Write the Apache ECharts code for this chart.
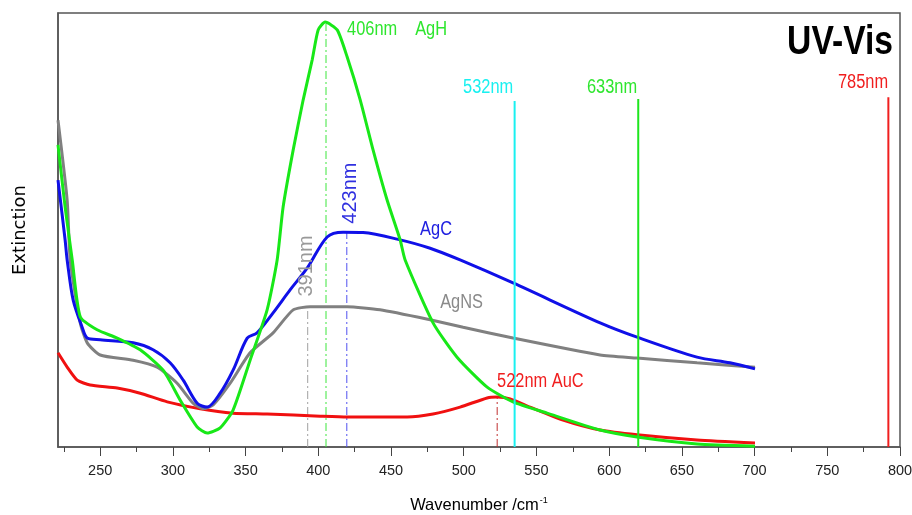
<!DOCTYPE html>
<html style="height: 100%">
  <head>
    <meta charset="UTF-8" />
    <title>UV-Vis</title>
    <script src="https://cdn.jsdelivr.net/npm/echarts/dist/echarts.min.js"></script>
  </head>
  <body style="height: 100%; margin: 0">
    <div id="main" style="width: 912px; height: 515px"></div>
    <script>
      var SANS = "'Liberation Sans', Arial, sans-serif";
      var NARROW_X = 0.82; // the original uses a narrow face, squeeze Liberation Sans

      // [wavelength, extinction]
      var agH = [
        [221, 69.6], [226, 55], [230.8, 43.1], [236.3, 30.0], [247.9, 27.0], [261.7, 25.1],
        [277.5, 22.4], [293.3, 17.7], [305, 10.8], [316.7, 4.6], [323.6, 3.2], [332.5, 4.4],
        [341.4, 8.5], [353.1, 20.0], [364.8, 31.6], [371.7, 43.1], [375.8, 55.3], [382.7, 68.4],
        [389.6, 80.0], [395.8, 89.2], [399.9, 96.1], [404.7, 97.9], [413, 96.1], [419.8, 89.9],
        [428.8, 80.0], [437.7, 68.4], [447.3, 56.9], [456.3, 47.7], [459.7, 43.1], [478.9, 28.6],
        [495.4, 20.7], [516.1, 13.8], [533.9, 10.4], [557.3, 7.8], [593.8, 3.9], [619.2, 2.3],
        [660.4, 0.7], [700.3, 0.2]
      ];
      var agC = [
        [221, 61.5], [225.9, 47.7], [227.3, 43.1], [231.4, 33.9], [237.6, 27.6], [241.1, 25.1],
        [250, 24.7], [272.7, 24.0], [286.4, 22.4], [298.1, 19.4], [307.1, 15.4], [316.7, 10.1],
        [323.6, 9.2], [332.5, 12.4], [341.4, 17.7], [351.1, 25.1], [357.9, 26.3], [368.9, 30.9],
        [380.6, 36.2], [392.3, 41.2], [406.1, 48.4], [417.1, 49.5], [430.8, 49.4], [454.2, 47.9],
        [476.9, 45.8], [497.5, 43.1], [533.9, 37.8], [593.8, 28.6], [619.2, 25.3], [660.4, 20.7],
        [683.1, 19.4], [700.3, 18.0]
      ];
      var agNS = [
        [221, 75.3], [227.3, 56.9], [229.4, 43.1], [236.3, 28.6], [241.1, 24.0], [250, 21.2],
        [272.7, 20.0], [289.2, 18.4], [302.9, 14.7], [313.9, 10.1], [320.8, 8.8], [327.7, 9.7],
        [339.4, 14.7], [353.1, 21.7], [368.9, 26.3], [382.7, 31.6], [394.4, 32.3], [419.8, 32.3],
        [442.5, 31.6], [476.9, 29.3], [499.6, 27.6], [533.9, 25.1], [593.8, 21.2], [619.2, 20.5],
        [660.4, 19.4], [700.3, 18.4]
      ];
      var auC = [
        [221, 21.7], [227.3, 18.4], [234.2, 15.4], [243.1, 14.3], [261.7, 13.6], [277.5, 12.4],
        [296.1, 10.4], [318.8, 8.8], [341.4, 7.8], [364.8, 7.6], [401.3, 7.1], [419.8, 6.9],
        [461.1, 6.9], [478.9, 7.6], [497.5, 9.2], [516.1, 11.3], [522.9, 11.5], [531.9, 11.1],
        [545.6, 9.2], [568.3, 6.2], [593.8, 3.9], [619.2, 2.8], [660.4, 1.6], [700.3, 0.9]
      ];

      // laser lines: [position, top, colour]
      var lasers = [[535, 79.7, '#19f0f0'], [620, 80.2, '#1ee61e'], [792, 80.6, '#f01e1e']];
      // peak markers: [position, top, colour]
      var peaks = [[392.7, 32.3, '#a0a0a0'], [405.3, 97.5, '#3ce63c'], [419.6, 49.5, '#5050f0'], [523, 11.5, '#c03030']];
      // text: [x, y, text, colour, align, rotate]
      var notes = [
        [419.8, 96.1, '406nm', '#2ee62e', 'left', 0],
        [466.6, 96.1, 'AgH', '#2ee62e', 'left', 0],
        [421.9, 58.5, '423nm', '#3030e0', 'center', 90],
        [391.6, 41.7, '391nm', '#999999', 'center', 90],
        [470, 50.2, 'AgC', '#2020e0', 'left', 0],
        [483.8, 33.4, 'AgNS', '#8a8a8a', 'left', 0],
        [522.9, 15.0, '522nm AuC', '#f01e1e', 'left', 0],
        [534, 82.9, '532nm', '#19f0f0', 'right', 0],
        [619.2, 82.9, '633nm', '#2ee62e', 'right', 0],
        [791.8, 83.9, '785nm', '#f01e1e', 'right', 0]
      ];
      var majorTicks = [250, 300, 350, 400, 450, 500, 550, 600, 650, 700, 750, 800];
      var minorTicks = [225, 275, 325, 375, 425, 475, 525, 575, 625, 675, 725, 775];

      var chart = echarts.init(document.getElementById('main'));

      function curve(name, data, color, smooth) {
        return {
          name: name,
          type: 'line',
          data: data,
          smooth: smooth,
          showSymbol: false,
          lineStyle: { color: color, width: 3 },
          z: 3
        };
      }

      var series = [
        curve('AuC', auC, '#f01010', 0.2),
        curve('AgNS', agNS, '#808080', 0.2),
        curve('AgC', agC, '#1010e8', 0.3),
        curve('AgH', agH, '#18e818', 0.2)
      ];

      lasers.forEach(function (l) {
        series.push({
          type: 'line',
          data: [[l[0], 0], [l[0], l[1]]],
          showSymbol: false,
          lineStyle: { color: l[2], width: 2 },
          z: 4
        });
      });
      peaks.forEach(function (p) {
        series.push({
          type: 'line',
          data: [[p[0], 0], [p[0], p[1]]],
          showSymbol: false,
          lineStyle: { color: p[2], width: 1, type: [8, 3, 2, 3] },
          z: 2
        });
      });
      series.push({
        type: 'custom',
        z: 5,
        silent: true,
        data: notes.map(function (n) { return [n[0], n[1]]; }),
        renderItem: function (params, api) {
          var n = notes[params.dataIndex];
          var p = api.coord([api.value(0), api.value(1)]);
          return {
            type: 'text',
            x: p[0],
            y: p[1],
            rotation: n[5] * Math.PI / 180,
            // vertical labels are not condensed in the original
            scaleX: n[5] ? 1 : NARROW_X,
            style: {
              text: n[2],
              fill: n[3],
              fontFamily: SANS,
              fontSize: 20,
              align: n[4],
              verticalAlign: 'middle'
            }
          };
        }
      });

      var option = {
        animation: false,
        graphic: [
          {
            type: 'text',
            x: 893,
            y: 43,
            scaleX: NARROW_X,
            style: {
              text: 'UV-Vis',
              fill: '#000',
              fontFamily: SANS,
              fontWeight: 'bold',
              fontSize: 41,
              align: 'right',
              verticalAlign: 'middle'
            }
          }
        ],
        grid: {
          left: 58,
          right: 12,
          top: 13,
          bottom: 68,
          containLabel: false,
          outerBoundsMode: 'none',
          show: true,
          borderColor: '#555',
          borderWidth: 1.5
        },
        xAxis: [
          {
            type: 'value',
            min: 221,
            max: 800,
            name: 'Wavenumber /cm{sup|-1}',
            nameLocation: 'middle',
            nameGap: 49,
            nameTextStyle: {
              fontFamily: SANS,
              fontSize: 16.5,
              color: '#000',
              rich: { sup: { fontFamily: SANS, fontSize: 9, verticalAlign: 'top', padding: [0, 0, 10, 1] } }
            },
            axisLine: { lineStyle: { color: '#555', width: 1.5 } },
            axisTick: { customValues: majorTicks, length: 9, lineStyle: { color: '#444' } },
            axisLabel: { customValues: majorTicks, margin: 16, fontFamily: SANS, fontSize: 14.5, color: '#222' },
            splitLine: { show: false }
          },
          {
            type: 'value',
            min: 221,
            max: 800,
            position: 'bottom',
            axisLine: { show: false },
            axisTick: { customValues: minorTicks, length: 5, lineStyle: { color: '#444' } },
            axisLabel: { show: false },
            splitLine: { show: false }
          }
        ],
        yAxis: {
          type: 'value',
          min: 0,
          max: 100,
          name: 'Extinction',
          nameLocation: 'middle',
          nameGap: 29,
          nameTextStyle: { fontFamily: 'DejaVu Sans', fontSize: 18, color: '#000' },
          axisLine: { show: true, lineStyle: { color: '#555', width: 1.5 } },
          axisTick: { show: false },
          axisLabel: { show: false },
          splitLine: { show: false }
        },
        series: series
      };
      chart.setOption(option);
    </script>
  </body>
</html>
